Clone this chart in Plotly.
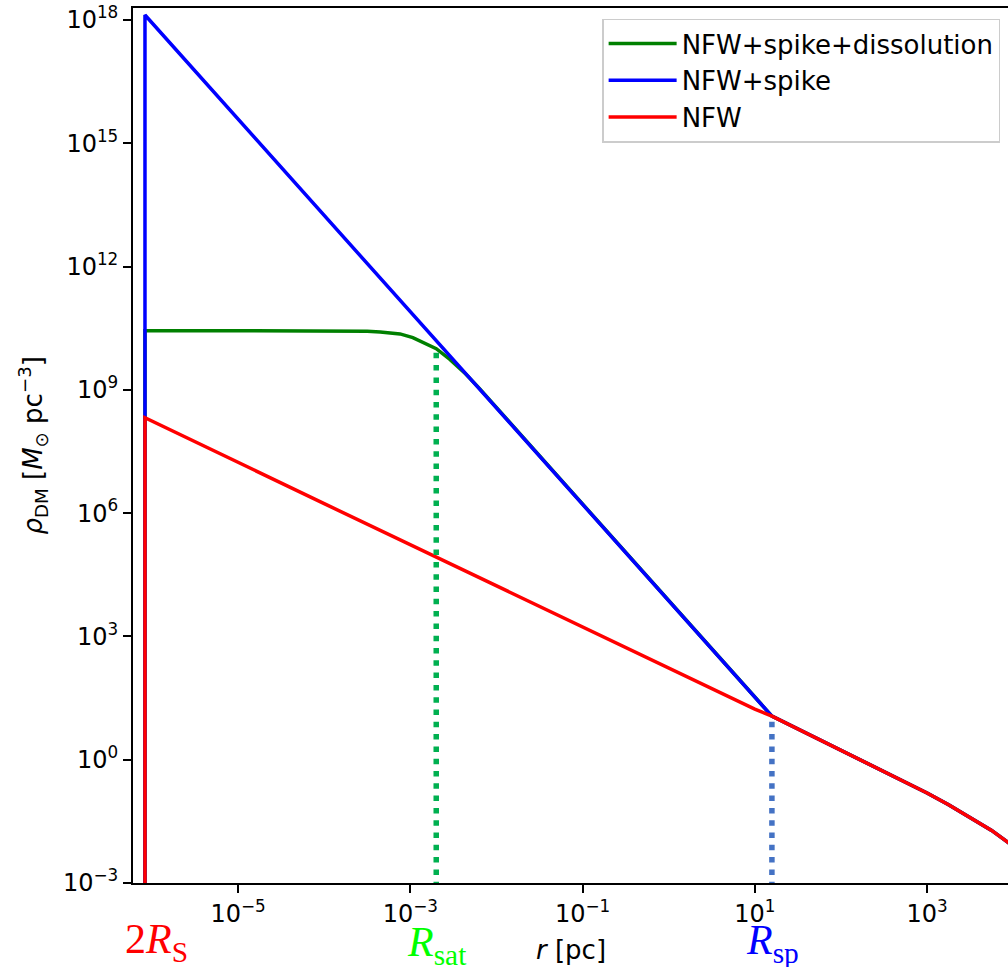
import plotly.graph_objects as go

# ---- data (r in pc, rho in Msun/pc^3) ----
r_2rs = 8.3e-7          # 2 R_S
r_sat = 2.0e-3          # R_sat
rho_sat = 1.0e10
r_sp = 15.8             # R_sp
rho_sp = 11.5
rho_floor = 1e-4        # below plotted range (vertical drop at 2R_S)

r_nfw = [r_2rs, r_2rs, 1e-4, 1e-2, 1.0, 10.0, r_sp, 100.0, 316.0, 1000.0, 1780.0, 3160.0, 5620.0, 8710.0, 1e4]
rho_nfw = [rho_floor, 2.1e8, 1.7e6, 1.7e4, 170.0, 17.0, rho_sp, 1.7, 0.52, 0.155, 0.08, 0.04, 0.019, 0.00975, 0.0078]

r_spike = [r_2rs, r_2rs, r_sp, 100.0, 316.0, 1000.0, 1780.0, 3160.0, 5620.0, 8710.0, 1e4]
rho_spike = [rho_floor, 1.32e18, rho_sp, 1.7, 0.52, 0.155, 0.08, 0.04, 0.019, 0.00975, 0.0078]

r_diss = [r_2rs, r_2rs, 1e-5, 1e-4, 2.0e-4, 3.16e-4, 4.47e-4, 7.59e-4, 1.07e-3, 1.48e-3, 2.0e-3, 2.88e-3,
          4.37e-3, 6.3e-3, r_sp, 100.0, 316.0, 1000.0, 1780.0, 3160.0, 5620.0, 8710.0, 1e4]
rho_diss = [rho_floor, 2.75e10, 2.75e10, 2.75e10, 2.71e10, 2.65e10, 2.55e10, 2.29e10, 1.86e10, 1.38e10, 1.0e10, 5.5e9,
            2.45e9, 1.1e9, rho_sp, 1.7, 0.52, 0.155, 0.08, 0.04, 0.019, 0.00975, 0.0078]

x_tick_vals = [1e-5, 1e-3, 1e-1, 1e1, 1e3]
x_tick_text = ["10<sup>−5</sup>", "10<sup>−3</sup>", "10<sup>−1</sup>", "10<sup>1</sup>", "10<sup>3</sup>"]
y_tick_vals = [1e-3, 1e0, 1e3, 1e6, 1e9, 1e12, 1e15, 1e18]
y_tick_text = ["10<sup>−3</sup>", "10<sup>0</sup>", "10<sup>3</sup>", "10<sup>6</sup>", "10<sup>9</sup>",
               "10<sup>12</sup>", "10<sup>15</sup>", "10<sup>18</sup>"]

series_names = ["NFW+spike+dissolution", "NFW+spike", "NFW"]
series_colors = ["#008000", "#0000ff", "#ff0000"]

fig = go.Figure()
for i, (xs, ys) in enumerate([(r_diss, rho_diss), (r_spike, rho_spike), (r_nfw, rho_nfw)]):
    fig.add_trace(go.Scatter(x=xs, y=ys, mode="lines", name=series_names[i],
                             line=dict(color=series_colors[i], width=3.5),
                             legendgroup=str(i)))

fig.add_trace(go.Scatter(x=[r_sat, r_sat], y=[rho_floor, rho_sat], mode="lines", showlegend=False,
                         line=dict(color="#00b050", width=5.5, dash="5.5px,6.8px")))
fig.add_trace(go.Scatter(x=[r_sp, r_sp], y=[rho_floor, rho_sp], mode="lines", showlegend=False,
                         line=dict(color="#4472c4", width=5.5, dash="5.5px,6.8px")))

tick_font = dict(family="DejaVu Sans", size=24, color="black")
fig.update_xaxes(type="log", range=[-6.22, 3.94], tickvals=x_tick_vals, ticktext=x_tick_text,
                 ticks="outside", ticklen=8, tickwidth=1.6, tickcolor="black",
                 showline=True, linecolor="black", linewidth=1.8, mirror=True,
                 showgrid=False, zeroline=False, tickfont=tick_font)
fig.update_yaxes(type="log", range=[-3.0, 18.29], tickvals=y_tick_vals, ticktext=y_tick_text,
                 ticks="outside", ticklen=8, tickwidth=1.6, tickcolor="black",
                 showline=True, linecolor="black", linewidth=1.8, mirror=False,
                 showgrid=False, zeroline=False, tickfont=tick_font)

serif = "Liberation Serif"
annotations = [
    dict(text="2<i>R</i><sub>S</sub>", x=-6.08, xref="x", xshift=11, y=-0.067, yref="paper",
         font=dict(family=serif, size=42, color="#ff0000")),
    dict(text="<i>R</i><sub>sat</sub>", x=-2.70, xref="x", y=-0.0705, yref="paper",
         font=dict(family=serif, size=42, color="#00ff00")),
    dict(text="<i>R</i><sub>sp</sub>", x=1.20, xref="x", y=-0.069, yref="paper",
         font=dict(family=serif, size=42, color="#0000ff")),
    dict(text="<i>r</i> [pc]", x=0.5, xref="paper", y=-0.077, yref="paper",
         font=dict(family="DejaVu Sans", size=26, color="black")),
    dict(text="<i>ρ</i><sub>DM</sub> [<i>M</i><sub>⊙</sub> pc<sup>−3</sup>]", x=(33 - 133) / 875.0, xref="paper",
         y=0.5, yref="paper", textangle=-90,
         font=dict(family="DejaVu Sans", size=26, color="black")),
]
for a in annotations:
    a["showarrow"] = False
    a["xanchor"] = "center"
    a["yanchor"] = "middle"

fig.update_layout(
    width=1008, height=967,
    margin=dict(l=133, r=0, t=8, b=84),
    paper_bgcolor="white", plot_bgcolor="white",
    annotations=annotations,
    legend=dict(x=0.991, y=0.988, xanchor="right", yanchor="top",
                bgcolor="rgba(255,255,255,0.8)", bordercolor="#cccccc", borderwidth=1.5,
                font=dict(family="DejaVu Sans", size=26, color="black"),
                traceorder="grouped", tracegroupgap=0, itemwidth=68),
    showlegend=True,
)

fig.write_html("out.html", config={"displayModeBar": False},
               post_script="document.body.style.margin='0px';document.body.style.overflow='hidden';")
